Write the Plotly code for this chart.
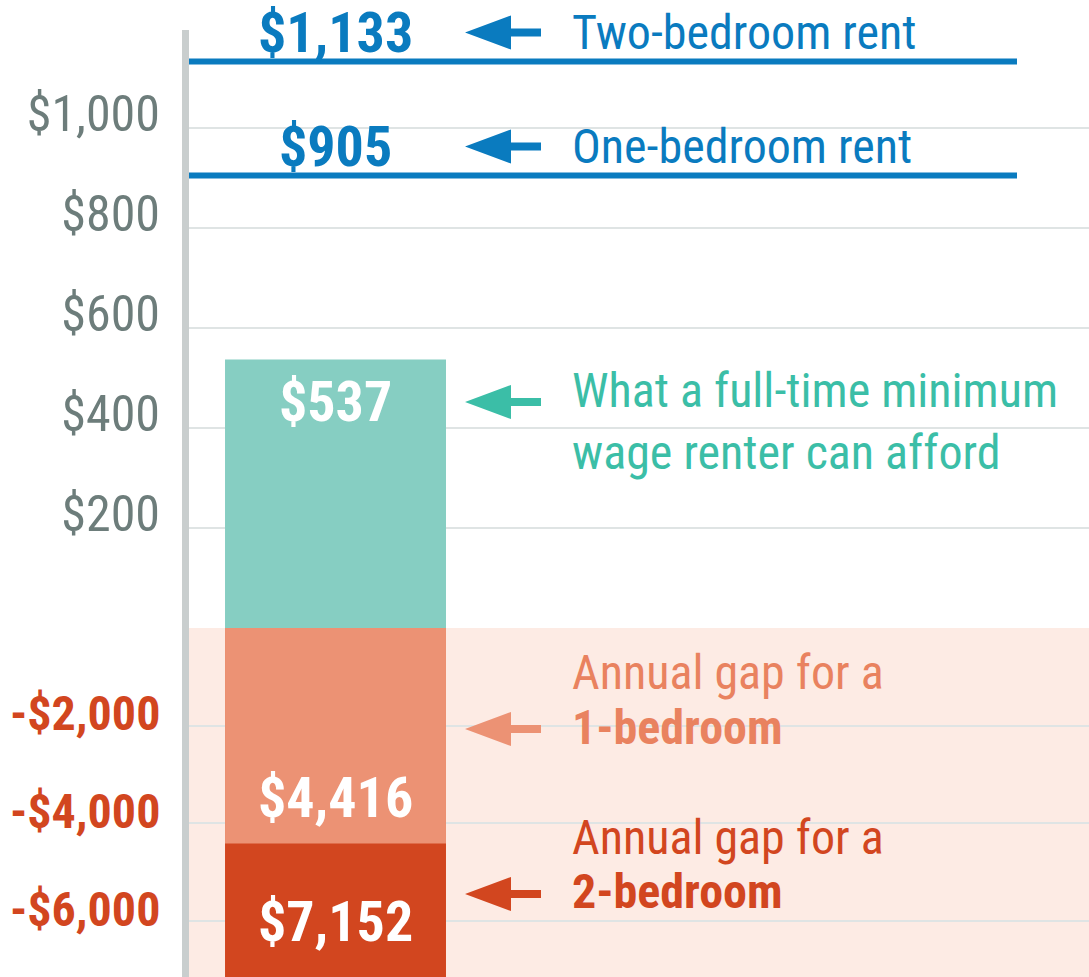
import plotly.graph_objects as go
from plotly.subplots import make_subplots

# ---- data -------------------------------------------------------------
category = ["Full-time minimum wage"]
affordable_rent = [537]            # monthly rent a full-time minimum wage renter can afford
rent_labels = ["Two-bedroom rent", "One-bedroom rent"]
rent_values = [1133, 905]          # monthly fair market rent
gap_labels = ["2-bedroom", "1-bedroom"]
gap_values = [-7152, -4416]        # annual gap
top_tickvals = [200, 400, 600, 800, 1000]
top_ticktext = ["$200", "$400", "$600", "$800", "$1,000"]
bottom_tickvals = [-2000, -4000, -6000]
bottom_ticktext = ["-$2,000", "-$4,000", "-$6,000"]

# ---- styling ----------------------------------------------------------
FONT = "Roboto Condensed, Liberation Sans Narrow, Liberation Sans, sans-serif"
BLUE = "#0a7bbf"
TEAL_BAR = "#86cec2"
TEAL_TXT = "#3bbea7"
SALMON_BAR = "#ec9274"
SALMON_TXT = "#e9825f"
RED = "#d2461f"
PINK = "#fdebe4"
GRAY_TXT = "#6d7d7b"
AXIS_GRAY = "#c9cece"
GRID = "#dfe4e4"

W, H = 1089, 977
L, T = 189, 30
ROWS = [598, 349]                  # pixel heights of the two panels
TOP_RANGE = [0, 1196]
BOTTOM_RANGE = [-7152, 0]


def px(x):
    return (x - L) / (W - L)


def py(y):
    return (H - y) / (H - T)


def top_paper(v):
    # value on the top panel's axis -> paper fraction
    bottom = ROWS[1] / sum(ROWS)
    span = ROWS[0] / sum(ROWS)
    return bottom + (v - TOP_RANGE[0]) / (TOP_RANGE[1] - TOP_RANGE[0]) * span


def arrow(x_tip, y_anchor, color, dy=0):
    # left-pointing arrow drawn in pixels around an anchor
    p = (f"M0,{dy} L46,{dy + 17} L46,{dy + 4} L76,{dy + 4} "
         f"L76,{dy - 4} L46,{dy - 4} L46,{dy - 17} Z")
    return dict(type="path", xref="paper", yref="paper", xsizemode="pixel",
                ysizemode="pixel", xanchor=x_tip, yanchor=y_anchor, path=p,
                fillcolor=color, line=dict(width=0))


def label(x, y, text, font, **kw):
    a = dict(x=x, y=y, text=text, font=font, showarrow=False,
             xanchor="center", yanchor="middle")
    a.update(kw)
    return a


fig = make_subplots(rows=2, cols=1, shared_xaxes=True, vertical_spacing=0,
                    row_heights=ROWS)

fig.add_trace(go.Bar(x=category, y=affordable_rent, width=1,
                     marker=dict(color=TEAL_BAR, line=dict(width=0))),
              row=1, col=1)
for v, c in zip(gap_values, [RED, SALMON_BAR]):
    fig.add_trace(go.Bar(x=category, y=[v], width=1,
                         marker=dict(color=c, line=dict(width=0))),
                  row=2, col=1)

shapes = [dict(type="rect", xref="x2 domain", yref="y2 domain", x0=0, x1=1,
               y0=0, y1=1, fillcolor=PINK, line=dict(width=0), layer="below")]
annotations = []

big = dict(family=FONT, size=56, color="white")
txt = dict(family=FONT, size=48)

# rent lines + labels
for lab, v in zip(rent_labels, rent_values):
    shapes.append(dict(type="line", xref="x domain", yref="y", x0=0, x1=0.92,
                       y0=v, y1=v, line=dict(color=BLUE, width=6)))
    annotations.append(label(category[0], v, f"<b>${v:,}</b>",
                             dict(big, color=BLUE), xref="x", yref="y", yshift=29))
    annotations.append(label(px(570), v, lab, dict(txt, color=BLUE),
                             xref="paper", yref="y", yshift=29, xanchor="left"))
    shapes.append(arrow(px(465), top_paper(v), BLUE, dy=29))

# affordable bar label
annotations.append(label(category[0], affordable_rent[0],
                         f"<b>${affordable_rent[0]:,}</b>", big,
                         xref="x", yref="y", yshift=-42))
annotations.append(label(px(570), py(390), "What a full-time minimum",
                         dict(txt, color=TEAL_TXT), xref="paper", yref="paper",
                         xanchor="left"))
annotations.append(label(px(570), py(452), "wage renter can afford",
                         dict(txt, color=TEAL_TXT), xref="paper", yref="paper",
                         xanchor="left"))
shapes.append(arrow(px(465), py(402), TEAL_TXT))

# gap labels
gap_txt_colors = [RED, SALMON_TXT]
gap_arrow_colors = [RED, SALMON_BAR]
gap_text_y = [(837, 892), (672, 727)]
gap_shift = [55, 45]
for lab, v, tc, ac, (y1, y2), sh in zip(gap_labels, gap_values, gap_txt_colors,
                                          gap_arrow_colors, gap_text_y, gap_shift):
    annotations.append(label(category[0], v, f"<b>${abs(v):,}</b>", big,
                             xref="x2", yref="y2", yshift=sh))
    annotations.append(label(px(570), py(y1), "Annual gap for a",
                             dict(txt, color=tc), xref="paper", yref="paper",
                             xanchor="left"))
    annotations.append(label(px(570), py(y2), f"<b>{lab}</b>",
                             dict(txt, color=tc), xref="paper", yref="paper",
                             xanchor="left"))
    shapes.append(arrow(px(465), py(y2 + 2), ac))

fig.update_xaxes(range=[-0.663, 3.41], visible=False, fixedrange=True)
fig.update_yaxes(range=TOP_RANGE, tickvals=top_tickvals, ticktext=top_ticktext,
                 tickfont=dict(family=FONT, size=50, color=GRAY_TXT),
                 ticklabelshift=-15, row=1, col=1)
fig.update_yaxes(range=BOTTOM_RANGE, tickvals=bottom_tickvals,
                 ticktext=[f"<b>{t}</b>" for t in bottom_ticktext],
                 tickfont=dict(family=FONT, size=48, color=RED),
                 ticklabelshift=-12, row=2, col=1)
fig.update_yaxes(showgrid=True, gridcolor=GRID, gridwidth=1.5, zeroline=False,
                 showline=True, linecolor=AXIS_GRAY, linewidth=7, ticks="",
                 ticklabelstandoff=12, automargin=False, fixedrange=True)

fig.update_layout(
    width=W, height=H,
    margin=dict(l=L, r=0, t=T, b=0),
    barmode="overlay",
    showlegend=False,
    paper_bgcolor="white",
    plot_bgcolor="rgba(0,0,0,0)",
    font=dict(family=FONT),
    shapes=shapes,
    annotations=annotations,
)

fig.write_html("out.html", config={"displayModeBar": False},
               post_script="document.body.style.margin='0';")
